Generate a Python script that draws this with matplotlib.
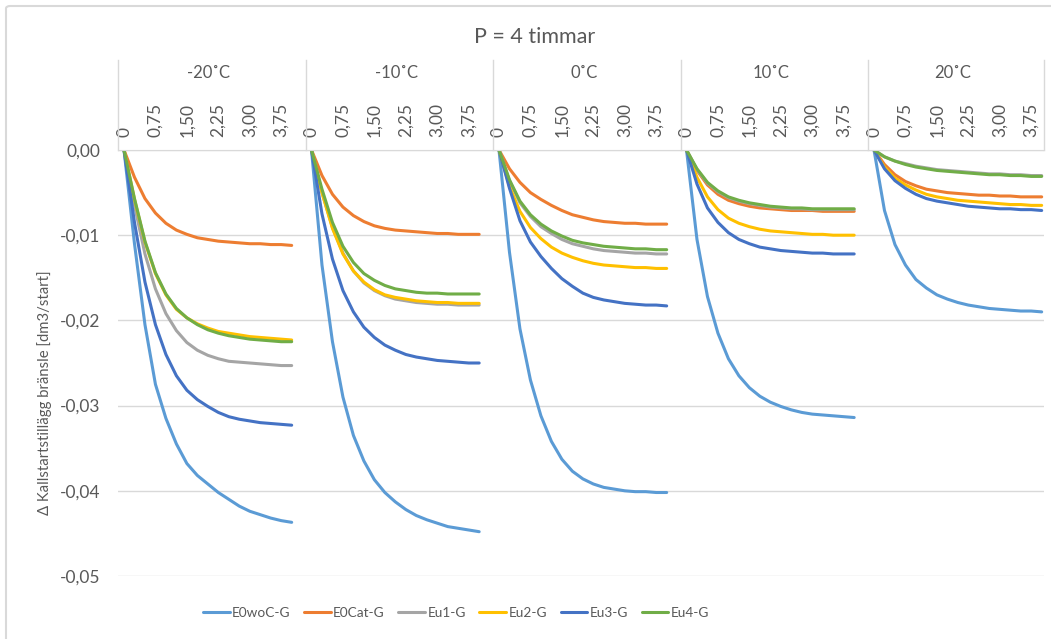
import matplotlib.pyplot as plt
from matplotlib.lines import Line2D
from matplotlib.patches import FancyBboxPatch

plt.rcParams['font.family'] = ['Lato', 'DejaVu Sans']

# timmar efter start, 0..4 i steg om 0,25
hours = [i * 0.25 for i in range(17)]
tick_pos = [0, 0.75, 1.5, 2.25, 3.0, 3.75]
tick_lbl = ["0", "0,75", "1,50", "2,25", "3,00", "3,75"]
temps = ["-20˚C", "-10˚C", "0˚C", "10˚C", "20˚C"]
y_ticks = [0, -0.01, -0.02, -0.03, -0.04, -0.05]
y_lbl = ["0,00", "-0,01", "-0,02", "-0,03", "-0,04", "-0,05"]

names = ["E0woC-G", "E0Cat-G", "Eu1-G", "Eu2-G", "Eu3-G", "Eu4-G"]
colors = ["#5B9BD5", "#ED7D31", "#A5A5A5", "#FFC000", "#4472C4", "#70AD47"]

# one list per temperature (-20, -10, 0, 10, 20)
e0woc = [
    [0, -0.011, -0.0205, -0.0275, -0.0315, -0.0345, -0.0368, -0.0382, -0.0392, -0.0402, -0.041, -0.0418, -0.0424, -0.0428, -0.0432, -0.0435, -0.0437],
    [0, -0.0135, -0.0225, -0.029, -0.0335, -0.0365, -0.0387, -0.0402, -0.0413, -0.0422, -0.0429, -0.0434, -0.0438, -0.0442, -0.0444, -0.0446, -0.0448],
    [0, -0.012, -0.021, -0.027, -0.0312, -0.0342, -0.0363, -0.0377, -0.0386, -0.0392, -0.0396, -0.0398, -0.04, -0.0401, -0.0401, -0.0402, -0.0402],
    [0, -0.0105, -0.0172, -0.0215, -0.0245, -0.0265, -0.0279, -0.0289, -0.0296, -0.0301, -0.0305, -0.0308, -0.031, -0.0311, -0.0312, -0.0313, -0.0314],
    [0, -0.0071, -0.0111, -0.0135, -0.0152, -0.0162, -0.017, -0.0175, -0.0179, -0.0182, -0.0184, -0.0186, -0.0187, -0.0188, -0.0189, -0.0189, -0.019],
]
e0cat = [
    [0, -0.0032, -0.0057, -0.0074, -0.0086, -0.0094, -0.0099, -0.0103, -0.0105, -0.0107, -0.0108, -0.0109, -0.011, -0.011, -0.0111, -0.0111, -0.0112],
    [0, -0.003, -0.0052, -0.0067, -0.0077, -0.0084, -0.0089, -0.0092, -0.0094, -0.0095, -0.0096, -0.0097, -0.0098, -0.0098, -0.0099, -0.0099, -0.0099],
    [0, -0.0022, -0.0038, -0.005, -0.0058, -0.0065, -0.0071, -0.0076, -0.0079, -0.0082, -0.0084, -0.0085, -0.0086, -0.0086, -0.0087, -0.0087, -0.0087],
    [0, -0.0024, -0.0041, -0.0052, -0.0059, -0.0063, -0.0066, -0.0068, -0.0069, -0.007, -0.0071, -0.0071, -0.0071, -0.0072, -0.0072, -0.0072, -0.0072],
    [0, -0.0017, -0.0029, -0.0037, -0.0042, -0.0046, -0.0048, -0.005, -0.0051, -0.0052, -0.0053, -0.0053, -0.0054, -0.0054, -0.0055, -0.0055, -0.0055],
]
eu1 = [
    [0, -0.0065, -0.0122, -0.0163, -0.0192, -0.0212, -0.0226, -0.0235, -0.0241, -0.0245, -0.0248, -0.0249, -0.025, -0.0251, -0.0252, -0.0253, -0.0253],
    [0, -0.005, -0.0091, -0.0121, -0.0142, -0.0156, -0.0165, -0.0171, -0.0175, -0.0177, -0.0179, -0.018, -0.0181, -0.0181, -0.0182, -0.0182, -0.0182],
    [0, -0.0036, -0.0062, -0.0078, -0.009, -0.0098, -0.0105, -0.011, -0.0113, -0.0116, -0.0118, -0.0119, -0.012, -0.0121, -0.0121, -0.0122, -0.0122],
    [0, -0.0023, -0.0039, -0.0049, -0.0056, -0.006, -0.0063, -0.0065, -0.0067, -0.0068, -0.0069, -0.0069, -0.007, -0.007, -0.007, -0.007, -0.007],
    [0, -0.0008, -0.0013, -0.0016, -0.0019, -0.0021, -0.0023, -0.0024, -0.0025, -0.0026, -0.0027, -0.0028, -0.0028, -0.0029, -0.0029, -0.003, -0.003],
]
eu2 = [
    [0, -0.0058, -0.0108, -0.0145, -0.017, -0.0187, -0.0197, -0.0204, -0.0209, -0.0213, -0.0215, -0.0217, -0.0219, -0.022, -0.0221, -0.0222, -0.0223],
    [0, -0.005, -0.0092, -0.0122, -0.0142, -0.0155, -0.0164, -0.017, -0.0173, -0.0175, -0.0177, -0.0178, -0.0179, -0.0179, -0.018, -0.018, -0.018],
    [0, -0.0043, -0.0072, -0.0091, -0.0104, -0.0114, -0.0121, -0.0126, -0.013, -0.0133, -0.0135, -0.0136, -0.0137, -0.0138, -0.0138, -0.0139, -0.0139],
    [0, -0.0032, -0.0055, -0.007, -0.008, -0.0086, -0.009, -0.0093, -0.0095, -0.0096, -0.0097, -0.0098, -0.0099, -0.0099, -0.01, -0.01, -0.01],
    [0, -0.002, -0.0033, -0.0041, -0.0047, -0.0052, -0.0055, -0.0057, -0.0059, -0.006, -0.0061, -0.0062, -0.0063, -0.0064, -0.0064, -0.0065, -0.0065],
]
eu3 = [
    [0, -0.0085, -0.0155, -0.0205, -0.024, -0.0265, -0.0282, -0.0293, -0.0301, -0.0308, -0.0313, -0.0316, -0.0318, -0.032, -0.0321, -0.0322, -0.0323],
    [0, -0.0075, -0.0128, -0.0165, -0.019, -0.0208, -0.022, -0.0229, -0.0235, -0.024, -0.0243, -0.0245, -0.0247, -0.0248, -0.0249, -0.025, -0.025],
    [0, -0.0045, -0.0083, -0.0108, -0.0125, -0.0139, -0.0151, -0.016, -0.0168, -0.0173, -0.0176, -0.0178, -0.018, -0.0181, -0.0182, -0.0182, -0.0183],
    [0, -0.004, -0.0068, -0.0085, -0.0097, -0.0105, -0.011, -0.0114, -0.0116, -0.0118, -0.0119, -0.012, -0.0121, -0.0121, -0.0122, -0.0122, -0.0122],
    [0, -0.0022, -0.0036, -0.0045, -0.0052, -0.0057, -0.006, -0.0062, -0.0064, -0.0066, -0.0067, -0.0068, -0.0069, -0.0069, -0.007, -0.007, -0.0071],
]
eu4 = [
    [0, -0.0057, -0.0107, -0.0144, -0.0169, -0.0186, -0.0197, -0.0205, -0.0211, -0.0215, -0.0218, -0.022, -0.0222, -0.0223, -0.0224, -0.0225, -0.0225],
    [0, -0.0046, -0.0085, -0.0113, -0.0132, -0.0145, -0.0153, -0.0159, -0.0163, -0.0165, -0.0167, -0.0168, -0.0168, -0.0169, -0.0169, -0.0169, -0.0169],
    [0, -0.0035, -0.006, -0.0076, -0.0087, -0.0095, -0.0101, -0.0106, -0.0109, -0.0111, -0.0113, -0.0114, -0.0115, -0.0116, -0.0116, -0.0117, -0.0117],
    [0, -0.0022, -0.0038, -0.0048, -0.0055, -0.0059, -0.0062, -0.0064, -0.0066, -0.0067, -0.0068, -0.0068, -0.0069, -0.0069, -0.0069, -0.0069, -0.0069],
    [0, -0.0008, -0.0013, -0.0017, -0.002, -0.0022, -0.0024, -0.0025, -0.0026, -0.0027, -0.0028, -0.0029, -0.0029, -0.003, -0.003, -0.0031, -0.0031],
]
all_series = [e0woc, e0cat, eu1, eu2, eu3, eu4]

W, H = 1051, 639
txt = "#595959"
grid = "#D9D9D9"
fig = plt.figure(figsize=(W / 100, H / 100), dpi=100)

# chart frame (cut at right/bottom like the screenshot)
fig.patches.append(FancyBboxPatch((6 / W, 1 - 660 / H), 1060 / W, 654 / H,
                                  boxstyle="round,pad=0,rounding_size=0.004",
                                  transform=fig.transFigure, fill=False,
                                  edgecolor=grid, linewidth=1.5))

top_px, bot_px = 150, 576
lefts = [118, 305.5, 493, 680.5, 868]
widths = [187.5, 187.5, 187.5, 187.5, 176]
px_per_unit = 41.92

for k, temp in enumerate(temps):
    ax = fig.add_axes([lefts[k] / W, 1 - bot_px / H, widths[k] / W, (bot_px - top_px) / H])
    for s, vals in enumerate(all_series):
        ax.plot(hours, vals[k], color=colors[s], linewidth=2.2, solid_capstyle="round",
                label=names[s])
    ax.set_xlim(-6 / px_per_unit, (widths[k] - 6) / px_per_unit)
    ax.set_ylim(-0.05, 0)
    ax.set_yticks(y_ticks)
    ax.grid(axis="y", color=grid, linewidth=1)
    ax.set_axisbelow(True)
    for side in ["left", "right", "bottom"]:
        ax.spines[side].set_visible(False)
    ax.spines["top"].set_color(grid)
    ax.xaxis.tick_top()
    ax.set_xticks(tick_pos)
    ax.set_xticklabels(tick_lbl, rotation=90, fontsize=12.5, color=txt)
    ax.tick_params(axis="x", length=0, pad=9.5)
    if k == 0:
        ax.set_yticklabels(y_lbl, fontsize=12.5, color=txt)
        ax.tick_params(axis="y", length=0, pad=12.5)
    else:
        ax.tick_params(axis="y", length=0, labelleft=False)
    fig.text((lefts[k] + widths[k] / 2 - 3) / W, 1 - 73 / H, temp, ha="center", va="center",
             fontsize=12, color=txt)

# header separators
for xp in lefts + [lefts[-1] + widths[-1]]:
    fig.add_artist(Line2D([xp / W, xp / W], [1 - 60 / H, 1 - top_px / H],
                          transform=fig.transFigure, color=grid, linewidth=1))

fig.text(535 / W, 1 - 37 / H, "P = 4 timmar", ha="center", va="center", fontsize=15.5, color=txt)
fig.text(45 / W, 1 - 393 / H, "Δ Kallstartstillägg bränsle [dm3/start]", rotation=90,
         ha="center", va="center", fontsize=10.7, color=txt)

handles, labels = ax.get_legend_handles_labels()
fig.legend(handles, labels, loc="center", bbox_to_anchor=(456 / W, 1 - 613 / H), ncol=6,
           frameon=False, fontsize=9.8, labelcolor=txt, handlelength=1.98, handletextpad=0.15,
           columnspacing=1.0)

fig.savefig("out.png", dpi=100)
